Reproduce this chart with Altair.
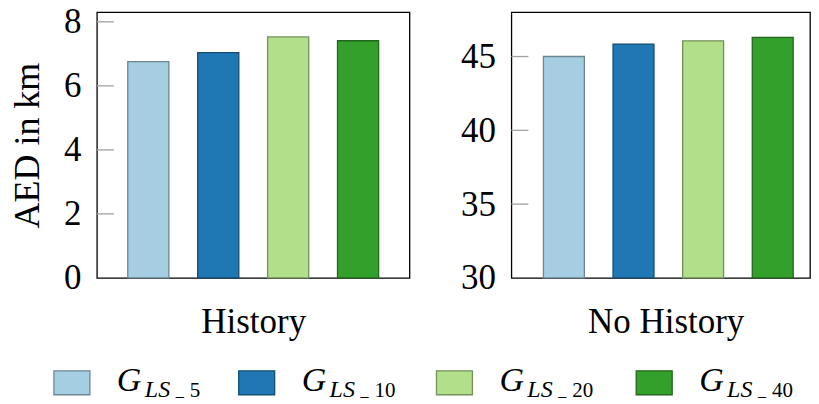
import altair as alt
import pandas as pd

# ---- data ----
series = ["G_LS_5", "G_LS_10", "G_LS_20", "G_LS_40"]
legend_main = ["G", "G", "G", "G"]
legend_sub = ["LS", "LS", "LS", "LS"]
legend_num = ["5", "10", "20", "40"]
colors = ["#a6cee3", "#1f78b4", "#b2df8a", "#33a02c"]
strokes = ["#6c8694", "#144e75", "#74915a", "#21681d"]

history_vals = [6.76, 7.04, 7.53, 7.41]
nohistory_vals = [45.0, 45.84, 46.06, 46.3]
left_ticks = [0, 2, 4, 6, 8]
right_ticks = [30, 35, 40, 45]
left_domain = [0, 8.3]
right_domain = [30, 48]
panel_titles = ["History", "No History"]
y_title = "AED in km"

FONT = "Liberation Serif"
PLOT_H = 266


def panel(values, domain, ticks, xtitle, ytitle, width, pad_outer, align, title_x):
    df = pd.DataFrame({"series": series, "value": values})
    tdf = pd.DataFrame({"value": [t for t in ticks if t > domain[0]]})
    x_axis_kw = dict(title=xtitle, labels=False, ticks=False, domain=False,
                     titleFont=FONT, titleFontSize=35, titleFontWeight="normal",
                     titleColor="black", titlePadding=27)
    if title_x is not None:
        x_axis_kw["titleX"] = title_x
    x = alt.X("series:N", sort=series,
              scale=alt.Scale(paddingInner=0.412, paddingOuter=pad_outer, align=align),
              axis=alt.Axis(**x_axis_kw))
    y_axis_kw = dict(values=ticks, ticks=False, domain=False, grid=False,
                     labelFont=FONT, labelFontSize=35, labelColor="black",
                     labelPadding=16, titleFont=FONT, titleFontSize=36,
                     titleFontWeight="normal", titleColor="black", titlePadding=17)
    y_axis_kw["title"] = ytitle if ytitle else None
    y = alt.Y("value:Q", scale=alt.Scale(domain=domain, nice=False, zero=False),
              axis=alt.Axis(**y_axis_kw))
    bars = alt.Chart(df).mark_bar(strokeWidth=1.3).encode(
        x=x,
        y=y,
        y2=alt.datum(domain[0]),
        color=alt.Color("series:N", scale=alt.Scale(domain=series, range=colors), legend=None),
        stroke=alt.Stroke("series:N", scale=alt.Scale(domain=series, range=strokes), legend=None),
    )
    tick_rules = alt.Chart(tdf).mark_rule(color="#a0a0a0", strokeWidth=1.3).encode(
        y=y, x=alt.value(0), x2=alt.value(17)
    )
    return bars, tick_rules


# left panel
lb, lt = panel(history_vals, left_domain, left_ticks, panel_titles[0], y_title,
               313, 0.4417, 0.5, None)

# legend (drawn inside the left panel, below the plot)
LEG_X = [-43, 142, 340, 540]
SQ_TOP = 359
G_BASE = 379
SUB_BASE = 385
legend_layers = []
for i in range(len(series)):
    one = pd.DataFrame({"series": [series[i]]})
    lx = LEG_X[i]
    legend_layers.append(
        alt.Chart(one).mark_rect(fill=colors[i], stroke=strokes[i], strokeWidth=1.3).encode(
            x=alt.value(lx), x2=alt.value(lx + 36), y=alt.value(SQ_TOP), y2=alt.value(SQ_TOP + 24)
        )
    )
    legend_layers.append(
        alt.Chart(one).mark_text(text=legend_main[i], font=FONT, fontSize=34, fontStyle="italic",
                                 align="left", baseline="alphabetic", color="black").encode(
            x=alt.value(lx + 63), y=alt.value(G_BASE)
        )
    )
    legend_layers.append(
        alt.Chart(one).mark_text(text=legend_sub[i], font=FONT, fontSize=24, fontStyle="italic",
                                 align="left", baseline="alphabetic", color="black").encode(
            x=alt.value(lx + 91), y=alt.value(SUB_BASE)
        )
    )
    legend_layers.append(
        alt.Chart(one).mark_text(text="_", font=FONT, fontSize=16,
                                 align="left", baseline="alphabetic", color="black").encode(
            x=alt.value(lx + 122), y=alt.value(SUB_BASE - 1)
        )
    )
    legend_layers.append(
        alt.Chart(one).mark_text(text=legend_num[i], font=FONT, fontSize=21,
                                 align="left", baseline="alphabetic", color="black").encode(
            x=alt.value(lx + 136), y=alt.value(SUB_BASE)
        )
    )

left = alt.layer(lb, lt, *legend_layers).properties(width=313, height=PLOT_H)

# right panel
rb, rt = panel(nohistory_vals, right_domain, right_ticks, panel_titles[1], None,
               299, 0.351, 0.656, 154.5)
right = alt.layer(rb, rt).properties(width=299, height=PLOT_H)

chart = alt.hconcat(left, right, spacing=102, bounds="flush").properties(
    padding={"top": -5, "left": 0, "right": 0, "bottom": 0}
).configure_view(stroke="black", strokeWidth=1.3)

chart.save("out.html", embed_options={"renderer": "svg", "actions": False})
